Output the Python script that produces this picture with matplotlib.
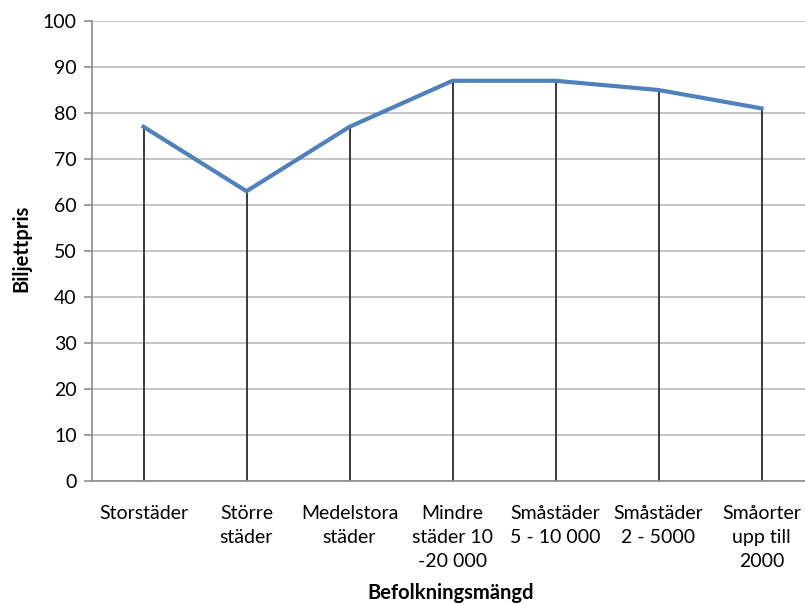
import matplotlib
matplotlib.use("Agg")
import matplotlib.pyplot as plt

## data
categories = ["Storstäder", "Större\nstäder", "Medelstora\nstäder",
              "Mindre\nstäder 10\n-20 000", "Småstäder\n5 - 10 000",
              "Småstäder\n2 - 5000", "Småorter\nupp till\n2000"]
biljettpris = [77, 63, 77, 87, 87, 85, 81]
y_ticks = list(range(0, 101, 10))

plt.rcParams['font.family'] = ['Lato', 'DejaVu Sans']

fig = plt.figure(figsize=(8.05, 6.04), dpi=100)
ax = fig.add_axes([92 / 805, 123 / 604, 721 / 805, 460 / 604])

x = list(range(len(categories)))

# drop lines from each point down to the axis
ax.vlines(x, 0, biljettpris, colors="#3a3a3a", linewidth=1.4, zorder=2)
ax.plot(x, biljettpris, color="#4F81BD", linewidth=3.0, solid_joinstyle="round", zorder=3)

ax.set_xlim(-0.5, len(categories) - 0.5)
ax.set_ylim(0, 100)
ax.set_yticks(y_ticks)
ax.yaxis.grid(True, color="#c4c4c4", linewidth=1.4)
ax.set_axisbelow(True)

ax.set_xticks(x)
ax.set_xticklabels(categories, fontsize=14, linespacing=1.5)
ax.tick_params(axis="x", length=0, pad=17)
ax.tick_params(axis="y", length=6, width=1.2, color="#8c8c8c", labelsize=14, pad=5)

for side in ["top", "right"]:
    ax.spines[side].set_visible(False)
for side in ["left", "bottom"]:
    ax.spines[side].set_color("#8c8c8c")
    ax.spines[side].set_linewidth(1.2)

fig.text(21 / 805, 1 - 248 / 604, "Biljettpris", rotation=90, fontsize=14.5,
         fontweight="bold", ha="center", va="center")
fig.text(451 / 805, 1 - 593 / 604, "Befolkningsmängd", fontsize=14.5,
         fontweight="bold", ha="center", va="center")

fig.savefig("out.png", dpi=100)
